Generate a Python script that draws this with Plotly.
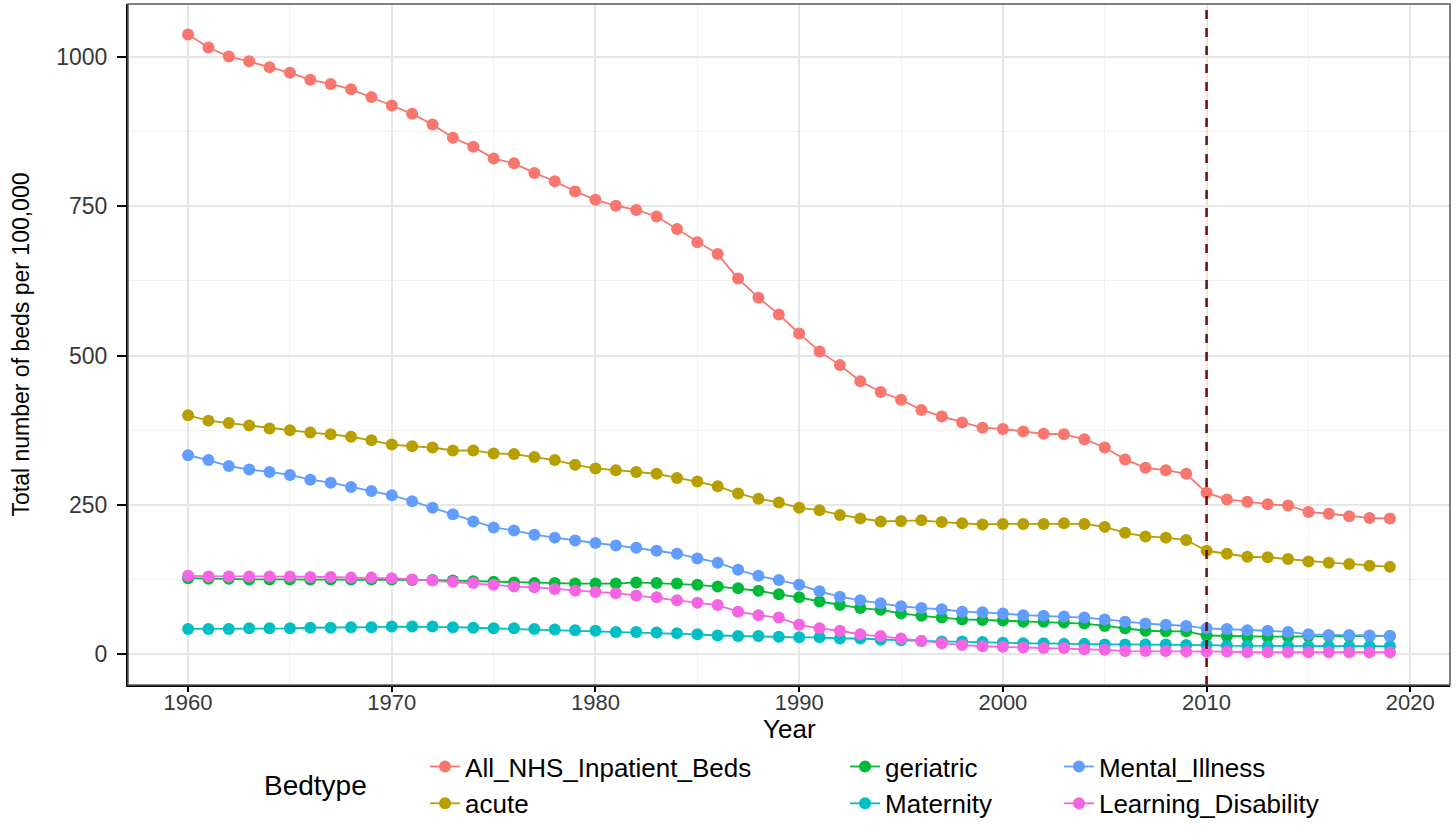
import plotly.graph_objects as go

years = list(range(1960, 2020))

all_nhs = [1038, 1016, 1001, 993, 983, 974, 962, 955, 946, 933,
           919, 905, 887, 865, 850, 830, 822, 806, 792, 775,
           761, 751, 744, 733, 712, 690, 670, 629, 597, 569,
           537, 507, 484, 457, 439, 426, 409, 398, 388, 379,
           377, 373, 369, 368, 360, 346, 326, 312, 308, 302,
           270, 259, 255, 251, 249, 238, 235, 231, 228, 227]
acute = [400, 391, 387, 383, 378, 375, 371, 368, 364, 358,
         351, 348, 346, 341, 341, 336, 335, 330, 325, 317,
         311, 308, 305, 302, 295, 289, 281, 269, 260, 254,
         245, 241, 233, 227, 222, 223, 224, 221, 219, 217,
         218, 218, 218, 219, 218, 213, 203, 197, 195, 191,
         173, 168, 163, 162, 159, 155, 153, 151, 148, 146]
geriatric = [127, 126, 126, 125, 125, 125, 125, 125, 125, 125,
             125, 124, 124, 123, 122, 121, 120, 119, 119, 118,
             118, 118, 120, 119, 118, 116, 113, 110, 106, 100,
             95, 88, 82, 77, 74, 68, 64, 61, 58, 57,
             56, 54, 54, 53, 51, 47, 43, 39, 38, 38,
             31, 30, 29, 29, 29, 30, 30, 30, 30, 30]
maternity = [42, 42, 42, 43, 43, 43, 44, 44, 45, 45,
             46, 46, 46, 45, 44, 43, 43, 42, 41, 40,
             39, 37, 37, 36, 35, 33, 31, 30, 30, 29,
             28, 28, 26, 26, 24, 23, 22, 21, 21, 20,
             19, 18, 18, 17, 17, 16, 16, 16, 16, 15,
             15, 14, 14, 13, 13, 13, 13, 13, 13, 13]
mental_illness = [333, 325, 315, 309, 305, 300, 292, 287, 280, 273,
                  266, 256, 245, 234, 222, 212, 207, 200, 195, 190,
                  186, 182, 178, 173, 168, 160, 153, 141, 131, 124,
                  116, 105, 96, 90, 85, 80, 77, 75, 71, 70,
                  68, 65, 64, 63, 61, 58, 54, 51, 49, 47,
                  43, 42, 40, 39, 37, 33, 32, 32, 31, 30]
learning_disability = [131, 130, 130, 130, 130, 130, 129, 129, 128, 128,
                       127, 125, 123, 121, 119, 116, 113, 112, 109, 106,
                       104, 102, 98, 95, 90, 86, 82, 71, 65, 61,
                       49, 43, 39, 33, 30, 26, 22, 18, 15, 13,
                       12, 11, 10, 10, 8, 7, 5, 5, 5, 4,
                       4, 4, 3, 3, 3, 3, 3, 3, 3, 3]

cutoff_year = 2010

# ggplot hue palette, in factor order (later ones drawn on top)
series = [
    ("All_NHS_Inpatient_Beds", all_nhs, "#F8766D", "legend"),
    ("acute", acute, "#B79F00", "legend"),
    ("geriatric", geriatric, "#00BA38", "legend2"),
    ("Maternity", maternity, "#00BFC4", "legend2"),
    ("Mental_Illness", mental_illness, "#619CFF", "legend3"),
    ("Learning_Disability", learning_disability, "#F564E3", "legend3"),
]

FONT = "Liberation Sans, Arial, sans-serif"

fig = go.Figure()
for name, vals, col, leg in series:
    fig.add_trace(go.Scatter(
        x=years, y=vals, name=name, mode="lines+markers",
        line=dict(color=col, width=1.8),
        marker=dict(color=col, size=12),
        legend=leg, legendgroup=name,
    ))

fig.add_vline(x=cutoff_year, line_dash="dash", line_color="#6E0A0A", line_width=2.5)

# panel border (grey on top / right)
fig.add_shape(type="rect", xref="paper", yref="paper", x0=0, x1=1, y0=0, y1=1,
              line=dict(color="#555555", width=1.5), layer="above")

grid = "#E6E6E6"
leg_y = -0.147
leg_common = dict(orientation="v", yanchor="middle", y=leg_y, xanchor="left",
                  font=dict(family=FONT, size=26, color="black"),
                  tracegroupgap=0, bgcolor="rgba(0,0,0,0)")

fig.update_layout(
    width=1456, height=840,
    margin=dict(l=128, r=6, t=4, b=155),
    paper_bgcolor="white", plot_bgcolor="white",
    font=dict(family=FONT),
    showlegend=True,
    legend=dict(x=0.2247, **leg_common),
    legend2=dict(x=0.5424, **leg_common),
    legend3=dict(x=0.7042, **leg_common),
    xaxis=dict(
        range=[1957.05, 2021.95], tick0=1960, dtick=10,
        showgrid=True, gridcolor=grid, gridwidth=1.5,
        minor=dict(dtick=5, tick0=1960, showgrid=True, gridcolor="#F1F1F1", gridwidth=1),
        showline=True, linecolor="black", linewidth=2,
        ticks="outside", ticklen=5, tickwidth=2, tickcolor="black",
        ticklabelstandoff=-8,
        tickfont=dict(family=FONT, size=22, color="#383838"),
        zeroline=False,
    ),
    yaxis=dict(
        range=[-51.9, 1089], tick0=0, dtick=250,
        showgrid=True, gridcolor=grid, gridwidth=1.5,
        minor=dict(dtick=125, tick0=0, showgrid=True, gridcolor="#F1F1F1", gridwidth=1),
        showline=True, linecolor="black", linewidth=2,
        ticks="outside", ticklen=9, tickwidth=2, tickcolor="black",
        ticklabelstandoff=5,
        tickfont=dict(family=FONT, size=23, color="#383838"),
        zeroline=False,
        title=dict(text="Total number of beds per 100,000",
                   font=dict(family=FONT, size=23, color="black"), standoff=20),
    ),
    annotations=[
        dict(text="Year", xref="paper", yref="paper", x=0.5, y=-0.064,
             xanchor="center", yanchor="middle", showarrow=False,
             font=dict(family=FONT, size=26, color="black")),
        dict(text="Bedtype", xref="paper", yref="paper", x=0.1415, y=leg_y,
             xanchor="center", yanchor="middle", showarrow=False,
             font=dict(family=FONT, size=28, color="black")),
    ],
)

fig.write_html("out.html", config={"displayModeBar": False},
               post_script="document.body.style.margin='0px';")
